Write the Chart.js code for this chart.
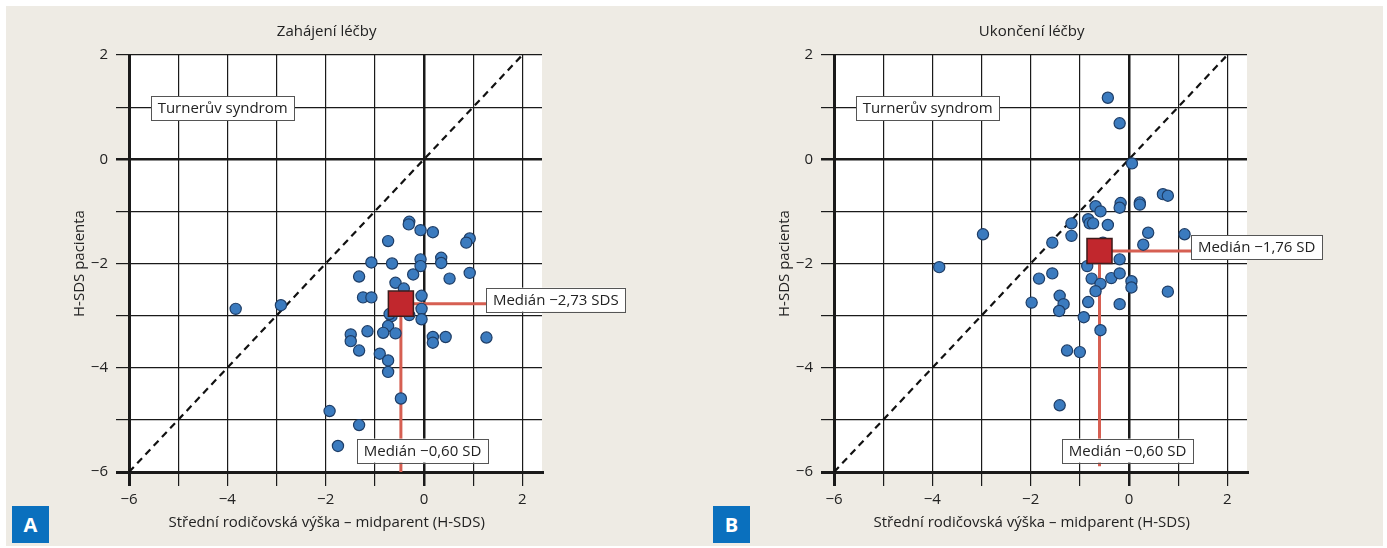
<!DOCTYPE html>
<html><head><meta charset="utf-8">
<script src="https://cdn.jsdelivr.net/npm/chart.js@4.4.1/dist/chart.umd.min.js"></script>
<style>
html,body{margin:0;padding:0;background:#fff;width:1387px;height:548px;overflow:hidden;position:relative}
#bg{position:absolute;left:6px;top:6px;width:1377px;height:540px;background:#EEEBE4}
canvas{position:absolute;top:0}
#cA{left:0}
#cB{left:705px}
.tag{position:absolute;top:506px;width:37px;height:37px;background:#0A70BE;color:#fff;font:bold 20px "Open Sans",sans-serif;display:flex;align-items:center;justify-content:center}
</style></head>
<body>
<div id="bg"></div>
<canvas id="cA" width="700" height="548"></canvas>
<canvas id="cB" width="682" height="548"></canvas>
<div class="tag" style="left:12px">A</div>
<div class="tag" style="left:713px">B</div>
<script>
// ---- data ----
const titles = ["Zahájení léčby", "Ukončení léčby"];
const xAxisTitle = "Střední rodičovská výška – midparent (H-SDS)";
const yAxisTitle = "H-SDS pacienta";
const groupLabel = "Turnerův syndrom";
const xTicks = [-6,-5,-4,-3,-2,-1,0,1,2];
const yTicks = [-6,-5,-4,-3,-2,-1,0,1,2];

const aX = [-3.83,-2.91,-0.30,-0.31,-0.07,0.18,-0.73,0.93,0.86,-1.07,-0.65,-0.07,-0.07,0.35,0.35,0.93,-1.32,-0.22,0.52,-0.58,-0.41,-1.24,-1.07,-0.05,-0.05,-0.05,-0.30,-0.66,-0.73,-0.83,-0.58,-1.15,-1.49,-1.49,-1.32,-0.90,-0.73,-0.73,0.18,0.18,0.44,1.27,-0.47,-1.92,-1.32,-1.75,-0.70];
const aY = [-2.87,-2.80,-1.20,-1.25,-1.36,-1.40,-1.57,-1.52,-1.60,-1.98,-2.00,-1.92,-2.05,-1.89,-1.99,-2.18,-2.25,-2.21,-2.29,-2.37,-2.48,-2.65,-2.65,-2.62,-2.87,-3.07,-2.99,-3.01,-3.20,-3.33,-3.34,-3.30,-3.36,-3.49,-3.67,-3.73,-3.86,-4.08,-3.41,-3.52,-3.41,-3.42,-4.59,-4.83,-5.10,-5.50,-2.97];

const bX = [-0.43,-0.19,0.06,0.69,0.79,-0.17,-0.19,0.22,0.22,-0.68,-0.58,-0.83,-0.80,-0.73,-0.43,-1.17,-1.17,-2.97,-1.56,0.39,1.13,0.29,-0.53,-0.19,-0.85,-3.86,-1.56,-1.83,-0.76,-0.58,-0.36,-0.19,0.05,0.05,-0.68,0.79,-1.98,-1.41,-1.33,-1.42,-0.83,-0.19,-0.92,-0.58,-1.26,-1.00,-1.41];
const bY = [1.18,0.69,-0.08,-0.67,-0.70,-0.84,-0.93,-0.83,-0.87,-0.90,-1.00,-1.15,-1.23,-1.23,-1.26,-1.23,-1.47,-1.44,-1.60,-1.41,-1.44,-1.64,-1.60,-1.92,-2.05,-2.07,-2.19,-2.29,-2.29,-2.39,-2.28,-2.19,-2.34,-2.46,-2.53,-2.54,-2.75,-2.62,-2.78,-2.91,-2.74,-2.78,-3.03,-3.28,-3.67,-3.70,-4.72];

const aMedian = {x: -0.47, y: -2.77};
const bMedian = {x: -0.60, y: -1.76};
const aMedianText = ["Medián −0,60 SD", "Medián −2,73 SDS"];
const bMedianText = ["Medián −0,60 SD", "Medián −1,76 SD"];
const identity = [-6, 2];

// ---- drawing ----
const FONT = '"Open Sans", sans-serif';
const FS = 15;
const fmt = v => (v < 0 ? '−' + Math.abs(v) : String(v));

function makeChart(id, title, xs, ys, med, medTexts, vEndY, canvasW) {
  const pts = xs.map((x, i) => ({x, y: ys[i]}));
  const labelStyle = (ctx, text, x, cy, anchor) => {
    ctx.font = FS + 'px ' + FONT;
    const w = ctx.measureText(text).width + 13, h = 24;
    const left = anchor === 'left' ? x : x - w / 2;
    ctx.fillStyle = '#fff';
    ctx.fillRect(left, cy - h / 2, w, h);
    ctx.strokeStyle = '#555'; ctx.lineWidth = 1;
    ctx.strokeRect(Math.round(left) + 0.5, Math.round(cy - h / 2) + 0.5, Math.round(w), h);
    ctx.fillStyle = '#222'; ctx.textBaseline = 'middle'; ctx.textAlign = 'left';
    ctx.fillText(text, left + 6.5, cy + 1);
  };
  const deco = {
    id: 'deco',
    beforeDraw(chart) {
      const {ctx, chartArea: a} = chart;
      ctx.save(); ctx.fillStyle = '#fff';
      ctx.fillRect(a.left, a.top, a.right - a.left, a.bottom - a.top);
      ctx.restore();
    },
    afterDraw(chart) {
      const {ctx} = chart; const sx = chart.scales.x, sy = chart.scales.y;
      ctx.save();
      labelStyle(ctx, groupLabel, sx.getPixelForValue(-5.55), sy.getPixelForValue(0.98), 'left');
      labelStyle(ctx, medTexts[1], sx.getPixelForValue(1.27), sy.getPixelForValue(med.y) - 4, 'left');
      labelStyle(ctx, medTexts[0], sx.getPixelForValue(-0.03), sy.getPixelForValue(-5.59), 'center');
      ctx.fillStyle = '#222'; ctx.font = FS + 'px ' + FONT; ctx.textAlign = 'center'; ctx.textBaseline = 'middle';
      const cx = sx.getPixelForValue(-2) + 1;
      ctx.fillText(title, cx, 32);
      ctx.fillText(xAxisTitle, cx, 523);
      ctx.translate(80, sy.getPixelForValue(-2));
      ctx.rotate(-Math.PI / 2);
      ctx.fillText(yAxisTitle, 0, 0);
      ctx.restore();
    }
  };
  const gridW = (axisEdge) => (c) => {
    const v = c.tick && c.tick.value;
    if (v === 0) return 2.5;
    if (v === axisEdge) return 3;
    return 1.2;
  };
  return new Chart(document.getElementById(id), {
    type: 'scatter',
    data: {
      datasets: [
        { data: [med], pointStyle: 'rect', pointRadius: 17.7, pointHoverRadius: 17.7,
          backgroundColor: '#C1272D', borderColor: '#3d1b1b', borderWidth: 1.5, order: 0 },
        { data: pts, pointRadius: 5.6, pointHoverRadius: 5.6, backgroundColor: '#3b7bbf',
          borderColor: '#1e3d66', borderWidth: 1.2, order: 1 },
        { data: [med, {x: 1.3, y: med.y}], showLine: true, pointRadius: 0, borderColor: '#d65f52',
          borderWidth: 3, order: 2 },
        { data: [med, {x: med.x, y: vEndY}], showLine: true, pointRadius: 0, borderColor: '#d65f52',
          borderWidth: 3, order: 2 },
        { data: identity.map(v => ({x: v, y: v})), showLine: true, pointRadius: 0, borderColor: '#111',
          borderWidth: 2.2, borderDash: [7, 5], order: 3 }
      ]
    },
    options: {
      responsive: false, animation: false, devicePixelRatio: 1,
      layout: { padding: { left: 0, top: 55, right: canvasW - 542, bottom: 0 } },
      plugins: { legend: { display: false }, tooltip: { enabled: false }, title: { display: false } },
      scales: {
        x: {
          type: 'linear', min: -6, max: 2.4,
          afterFit: s => { s.height = 76; },
          afterBuildTicks: s => { s.ticks = xTicks.map(v => ({value: v})); },
          ticks: { includeBounds: false, stepSize: 1, autoSkip: false, maxRotation: 0, padding: 5,
                   color: '#222', font: { family: FONT, size: FS },
                   callback: v => (v % 2 === 0 ? fmt(v) : '') },
          grid: { color: '#1a1a1a', lineWidth: gridW(-6), tickLength: 14, drawTicks: true },
          border: { display: true, color: '#1a1a1a', width: 3 }
        },
        y: {
          type: 'linear', min: -6, max: 2,
          afterFit: s => { s.width = 129; },
          afterBuildTicks: s => { s.ticks = yTicks.map(v => ({value: v})); },
          ticks: { stepSize: 1, autoSkip: false, padding: 8, color: '#222', font: { family: FONT, size: FS },
                   callback: v => (v % 2 === 0 ? fmt(v) : '') },
          grid: { color: '#1a1a1a', lineWidth: gridW(-6), tickLength: 13, drawTicks: true },
          border: { display: true, color: '#1a1a1a', width: 3 }
        }
      }
    },
    plugins: [deco]
  });
}

makeChart('cA', titles[0], aX, aY, aMedian, aMedianText, -6, 700);
makeChart('cB', titles[1], bX, bY, bMedian, bMedianText, -5.89, 682);
</script>
</body></html>
